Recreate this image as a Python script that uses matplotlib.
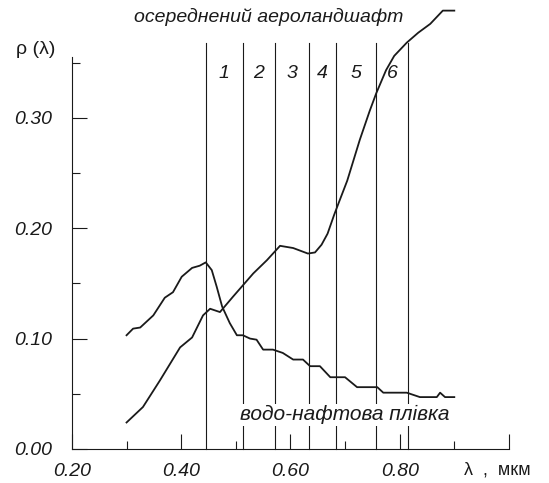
import matplotlib.pyplot as plt
from matplotlib.ticker import MultipleLocator

plt.rcParams['font.family'] = ['Liberation Sans', 'DejaVu Sans']

# осереднений аероландшафт
wl_land = [0.30, 0.33, 0.361, 0.398, 0.42, 0.44, 0.453, 0.471, 0.495, 0.532, 0.557,
           0.581, 0.605, 0.632, 0.645, 0.657, 0.668, 0.68, 0.69, 0.704, 0.727, 0.745,
           0.757, 0.775, 0.79, 0.813, 0.834, 0.856, 0.879, 0.90]
rho_land = [0.024, 0.038, 0.062, 0.092, 0.101, 0.121, 0.127, 0.124, 0.138, 0.159, 0.171,
            0.184, 0.182, 0.177, 0.178, 0.185, 0.195, 0.212, 0.225, 0.243, 0.280, 0.306,
            0.322, 0.343, 0.356, 0.368, 0.377, 0.385, 0.397, 0.397]

# водо-нафтова плівка
wl_oil = [0.30, 0.312, 0.325, 0.349, 0.37, 0.385, 0.401, 0.42, 0.434, 0.445, 0.456,
          0.465, 0.475, 0.489, 0.502, 0.513, 0.526, 0.538, 0.55, 0.568, 0.586, 0.605,
          0.623, 0.636, 0.654, 0.673, 0.70, 0.722, 0.759, 0.77, 0.813, 0.837, 0.868,
          0.874, 0.883, 0.90]
rho_oil = [0.103, 0.109, 0.110, 0.121, 0.137, 0.142, 0.156, 0.164, 0.166, 0.169, 0.162,
           0.147, 0.129, 0.114, 0.103, 0.103, 0.100, 0.099, 0.090, 0.090, 0.087, 0.081,
           0.081, 0.075, 0.075, 0.065, 0.065, 0.056, 0.056, 0.051, 0.051, 0.047, 0.047,
           0.051, 0.047, 0.047]

# межі спектральних каналів
band_edges = [0.445, 0.513, 0.572, 0.634, 0.684, 0.757, 0.815]
band_names = ['1', '2', '3', '4', '5', '6']

ink = '#1a1a1a'

fig = plt.figure(figsize=(5.49, 4.83), dpi=100)
ax = fig.add_axes([0.131, 0.0704, 0.796, 0.8116])

for x in band_edges:
    ax.plot([x, x], [0, 0.368], color=ink, lw=0.8, clip_on=False, zorder=1)

ax.plot(wl_land, rho_land, color=ink, lw=1.3, clip_on=False, zorder=2)
ax.plot(wl_oil, rho_oil, color=ink, lw=1.3, clip_on=False, zorder=2)

for i, name in enumerate(band_names):
    xc = (band_edges[i] + band_edges[i + 1]) / 2
    ax.text(xc, 0.340, name, ha='center', va='center', fontsize=14,
            style='italic', color=ink)

ax.text(0.56, 0.391, 'осереднений аероландшафт', ha='center', va='center',
        fontsize=14, style='italic', color=ink)
ax.text(0.70, 0.031, 'водо-нафтова плівка', ha='center', va='center',
        fontsize=15, style='italic', color=ink, zorder=3,
        bbox=dict(facecolor='white', edgecolor='none', pad=1))
ax.text(-0.082, 1.02, 'ρ (λ)', transform=ax.transAxes, ha='center', va='center',
        fontsize=14, color=ink)
ax.text(0.978, -0.019, 'λ  ,  мкм', ha='center', va='center', fontsize=13, color=ink)

ax.set_xlim(0.2, 1.0)
ax.set_ylim(0, 0.355)
ax.spines['top'].set_visible(False)
ax.spines['right'].set_visible(False)
ax.spines['left'].set_color(ink)
ax.spines['bottom'].set_color(ink)

ax.set_xticks([0.2, 0.4, 0.6, 0.8, 1.0])
ax.set_xticklabels(['0.20', '0.40', '0.60', '0.80', ''], style='italic', fontsize=14)
ax.xaxis.set_minor_locator(MultipleLocator(0.1))
ax.set_yticks([0.0, 0.1, 0.2, 0.3])
ax.set_yticklabels(['0.00', '0.10', '0.20', '0.30'], style='italic', fontsize=14)
ax.yaxis.set_minor_locator(MultipleLocator(0.05))

ax.tick_params(which='major', direction='in', length=11, width=0.8, color=ink, labelcolor=ink)
ax.tick_params(which='minor', direction='in', length=6, width=0.8, color=ink)
ax.tick_params(axis='y', which='major', pad=14)
ax.tick_params(axis='x', which='major', pad=10)

fig.savefig('out.png', dpi=100)
